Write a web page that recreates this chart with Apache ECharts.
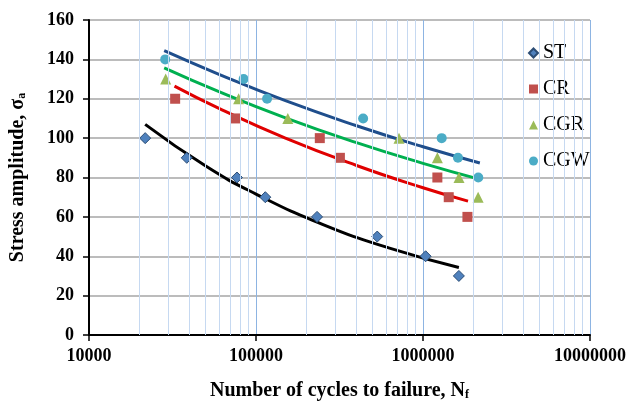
<!DOCTYPE html>
<html><head><meta charset="utf-8">
<script src="https://cdn.jsdelivr.net/npm/echarts@6/dist/echarts.min.js"></script>
<style>html,body{margin:0;padding:0;background:#fff}#c{width:630px;height:406px}</style>
</head><body><div id="c"></div>
<script>
// Data points (cycles to failure, stress amplitude)
const stN  = [21700, 38500, 76900, 113700, 232000, 532000, 1037000, 1640000];
const stS  = [100, 90, 80, 70, 60, 50, 40, 30];
const crN  = [32800, 75900, 241000, 318000, 1219000, 1426000, 1845000];
const crS  = [120, 110, 100, 90, 80, 70, 60];
const cgrN = [28800, 78700, 155000, 718000, 1219000, 1643000, 2138000];
const cgrS = [130, 120, 110, 100, 90, 80, 70];
const cgwN = [28600, 84300, 116500, 438000, 1294000, 1619000, 2143000];
const cgwS = [140, 130, 120, 110, 100, 90, 80];
// Trend lines
const stTrendN  = [21700, 50000, 100000, 250000, 630000, 1640000];
const stTrendS  = [107, 85.8, 71.6, 56.2, 44.1, 34.3];
const crTrendN  = [32500, 60000, 150000, 400000, 1000000, 1860000];
const crTrendS  = [126.4, 115.1, 100.0, 86.1, 74.8, 68.0];
const cgrTrendN = [28200, 60000, 150000, 400000, 1000000, 2140000];
const cgrTrendS = [135.7, 123.6, 110.3, 97.7, 87.2, 79.3];
const cgwTrendN = [28200, 60000, 150000, 400000, 1000000, 2190000];
const cgwTrendS = [144.4, 132.4, 119.0, 106.3, 95.6, 87.4];
const seriesNames = ['ST', 'CR', 'CGR', 'CGW'];
const minorGrid = [20000,30000,40000,50000,60000,70000,80000,90000,
  200000,300000,400000,500000,600000,700000,800000,900000,
  2000000,3000000,4000000,5000000,6000000,7000000,8000000,9000000];

const zip = (a, b) => a.map((v, i) => [v, b[i]]);
const serif = '"Liberation Serif","Times New Roman",serif';

const chart = echarts.init(document.getElementById('c'), null, {renderer: 'canvas'});
chart.setOption({
  animation: false,
  backgroundColor: '#fff',
  grid: {left: 89, right: 40, top: 20, bottom: 69, containLabel: false},
  legend: {
    orient: 'vertical', left: 523, top: 38,
    itemWidth: 9, itemHeight: 9, itemGap: 16,
    textStyle: {fontFamily: serif, fontSize: 20, color: '#000'},
    data: seriesNames
  },
  xAxis: {
    type: 'log', logBase: 10, min: 10000, max: 10000000,
    name: 'Number of cycles to failure, N{sub|f}',
    nameLocation: 'middle', nameGap: 46,
    nameTextStyle: {fontFamily: serif, fontWeight: 'bold', fontSize: 20, color: '#000',
      rich: {sub: {fontFamily: serif, fontWeight: 'bold', fontSize: 12, verticalAlign: 'bottom', padding: [8,0,0,0]}}},
    axisLine: {show: true, onZero: false, lineStyle: {color: '#000', width: 2}},
    axisTick: {show: true, inside: false, length: 6, lineStyle: {color: '#000', width: 1.5}},
    axisLabel: {fontFamily: serif, fontWeight: 'bold', fontSize: 18, color: '#000', margin: 12,
      formatter: v => String(Math.round(v))},
    splitLine: {show: true, lineStyle: {color: '#8DB4E2', width: 1}},
    minorTick: {show: false}, minorSplitLine: {show: false}
  },
  yAxis: {
    type: 'value', min: 0, max: 160, interval: 20,
    name: 'Stress amplitude, σ{sub|a}',
    nameLocation: 'middle', nameGap: 61, nameRotate: 90,
    nameTextStyle: {fontFamily: serif, fontWeight: 'bold', fontSize: 20, color: '#000',
      rich: {sub: {fontFamily: serif, fontWeight: 'bold', fontSize: 12, padding: [8,0,0,0]}}},
    axisLine: {show: true, lineStyle: {color: '#000', width: 2}},
    axisTick: {show: true, inside: false, length: 6, lineStyle: {color: '#000', width: 1.5}},
    axisLabel: {fontFamily: serif, fontWeight: 'bold', fontSize: 18, color: '#000', margin: 15},
    splitLine: {show: true, lineStyle: {color: '#A6A6A6', width: 1.5}}
  },
  series: [
    {type: 'line', name: 'minorgrid', data: [], silent: true, z: 1,
      markLine: {silent: true, symbol: 'none', label: {show: false},
        lineStyle: {color: '#C6D9F1', width: 1, type: 'solid'},
        data: minorGrid.map(v => ({xAxis: v}))}},
    {type: 'line', name: 'stTrend', data: zip(stTrendN, stTrendS), smooth: true, showSymbol: false, z: 3,
      lineStyle: {color: '#000000', width: 3}, itemStyle: {color: '#000'}},
    {type: 'line', name: 'crTrend', data: zip(crTrendN, crTrendS), smooth: true, showSymbol: false, z: 3,
      lineStyle: {color: '#E00000', width: 3}, itemStyle: {color: '#E00000'}},
    {type: 'line', name: 'cgrTrend', data: zip(cgrTrendN, cgrTrendS), smooth: true, showSymbol: false, z: 3,
      lineStyle: {color: '#00B050', width: 3}, itemStyle: {color: '#00B050'}},
    {type: 'line', name: 'cgwTrend', data: zip(cgwTrendN, cgwTrendS), smooth: true, showSymbol: false, z: 3,
      lineStyle: {color: '#1F4E8C', width: 3}, itemStyle: {color: '#1F4E8C'}},
    {type: 'scatter', name: 'ST', data: zip(stN, stS), symbol: 'diamond', symbolSize: 11, z: 4,
      itemStyle: {color: '#4F81BD', borderColor: '#2C4D75', borderWidth: 1, opacity: 1}},
    {type: 'scatter', name: 'CR', data: zip(crN, crS), symbol: 'rect', symbolSize: 10, z: 4,
      itemStyle: {color: '#C0504D', opacity: 1}},
    {type: 'scatter', name: 'CGR', data: zip(cgrN, cgrS), symbol: 'triangle', symbolSize: 11, z: 4,
      itemStyle: {color: '#9BBB59', opacity: 1}},
    {type: 'scatter', name: 'CGW', data: zip(cgwN, cgwS), symbol: 'circle', symbolSize: 10, z: 4,
      itemStyle: {color: '#4BACC6', opacity: 1}}
  ]
});
</script>
</body></html>
